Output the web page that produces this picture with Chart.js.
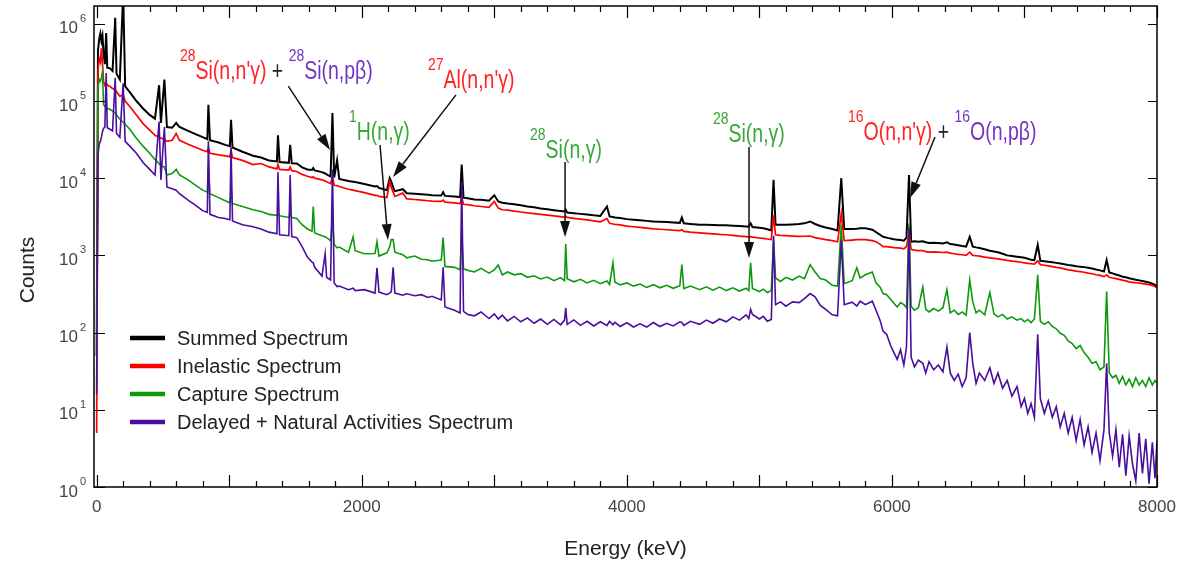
<!DOCTYPE html>
<html><head><meta charset="utf-8">
<script src="https://cdn.jsdelivr.net/npm/chart.js@4.4.1/dist/chart.umd.min.js"></script>
<style>html,body{margin:0;padding:0;background:#fff;} #wrap{width:1187px;height:567px;}</style>
</head><body><div id="wrap"><canvas id="c" width="1187" height="567"></canvas></div>
<script>
// ---------------- data ----------------
const energy = [
0,10,20,28,36,44,52,62,72,80,
100,120,140,150,175,200,215,250,300,350,
400,440,471,485,511,530,570,600,625,690,
750,800,835,843,855,920,970,1005,1014,1025,
1100,1180,1240,1300,1360,1368,1380,1450,1460,1472,
1510,1550,1590,1625,1634,1645,1700,1724,1735,1765,
1779,1792,1814,1830,1900,1935,1950,2020,2100,2115,
2130,2190,2211,2223,2237,2250,2310,2340,2400,2450,
2500,2530,2600,2614,2628,2700,2742,2754,2768,2800,
2850,2900,2960,3000,3030,3060,3100,3150,3200,3250,
3300,3350,3400,3450,3500,3530,3539,3550,3600,3650,
3700,3750,3800,3850,3870,3895,3910,3950,4000,4050,
4100,4150,4200,4250,4300,4350,4400,4415,4430,4480,
4550,4600,4650,4700,4750,4800,4850,4900,4920,4934,
4948,5000,5030,5060,5090,5107,5122,5160,5200,5250,
5300,5340,5383,5420,5460,5500,5550,5590,5618,5640,
5700,5735,5760,5800,5852,5880,5910,5933,5960,5990,
6015,6040,6065,6090,6110,6129,6145,6170,6200,6233,
6255,6280,6315,6350,6385,6415,6440,6470,6500,6530,
6560,6587,6610,6635,6660,6700,6739,6770,6800,6835,
6870,6905,6944,6975,7000,7025,7050,7075,7100,7120,
7150,7180,7210,7240,7270,7300,7330,7360,7390,7420,
7450,7480,7510,7540,7570,7600,7620,7640,7665,7690,
7715,7740,7765,7790,7815,7840,7865,7890,7915,7940,
7965,7985,8000];

const summed = [
50,4.5e5,6.5e5,7.5e5,6.0e5,7.0e5,4.2e5,3.0e5,7.6e5,2.7e5,
2.65e5,2.45e5,1.2e6,2.25e5,1.9e5,2.5e6,1.55e5,1.3e5,1.0e5,8.0e4,
6.6e4,5.9e4,1.6e5,5.2e4,1.9e5,4.6e4,4.5e4,5.2e4,4.6e4,4.1e4,
3.7e4,3.4e4,3.2e4,8.9e4,3.1e4,2.9e4,2.7e4,2.6e4,5.7e4,2.5e4,
2.2e4,1.95e4,1.85e4,1.7e4,1.65e4,3.6e4,1.62e4,1.58e4,2.7e4,1.56e4,
1.55e4,1.38e4,1.3e4,1.28e4,1.35e4,1.26e4,1.2e4,1.15e4,1.12e4,1.05e4,
7.0e4,1.02e4,1.7e4,9.8e3,9.2e3,9.0e3,8.9e3,8.4e3,7.8e3,7.9e3,
7.5e3,7.0e3,1.0e4,9.0e3,7.6e3,6.8e3,7.2e3,6.4e3,6.3e3,6.2e3,
6.1e3,6.0e3,5.95e3,6.6e3,5.9e3,5.8e3,5.7e3,1.5e4,5.6e3,5.5e3,
5.3e3,5.25e3,5.1e3,6.0e3,5.0e3,4.8e3,4.7e3,4.6e3,4.45e3,4.3e3,
4.2e3,4.05e3,3.95e3,3.85e3,3.75e3,3.7e3,3.9e3,3.6e3,3.52e3,3.45e3,
3.38e3,3.3e3,3.25e3,4.3e3,3.2e3,3.15e3,3.1e3,3.05e3,2.95e3,2.9e3,
2.85e3,2.8e3,2.75e3,2.72e3,2.7e3,2.67e3,2.64e3,3.1e3,2.6e3,2.56e3,
2.5e3,2.5e3,2.48e3,2.46e3,2.45e3,2.43e3,2.4e3,2.37e3,2.35e3,2.6e3,
2.33e3,2.28e3,2.25e3,2.18e3,2.1e3,9.5e3,2.5e3,2.5e3,2.5e3,2.52e3,
2.55e3,2.6e3,2.75e3,2.55e3,2.4e3,2.3e3,2.2e3,2.1e3,1.0e4,2.2e3,
2.2e3,2.22e3,2.24e3,2.25e3,2.15e3,2.0e3,1.85e3,1.74e3,1.7e3,1.65e3,
1.62e3,1.6e3,1.58e3,1.55e3,1.7e3,1.1e4,1.5e3,1.52e3,1.5e3,1.52e3,
1.48e3,1.45e3,1.46e3,1.45e3,1.43e3,1.48e3,1.4e3,1.38e3,1.35e3,1.32e3,
1.3e3,1.74e3,1.3e3,1.27e3,1.25e3,1.2e3,1.15e3,1.12e3,1.1e3,1.05e3,
1.0e3,980,960,945,930,905,880,870,1.37e3,850,
840,830,815,800,785,770,750,740,725,715,
705,690,675,655,640,620,870,600,585,565,
550,530,520,505,495,485,475,465,455,445,
430,415,400];

const inelastic = [
5,2.5e5,3.5e5,3.2e5,4.8e5,3.0e5,1.8e5,1.6e5,1.7e5,1.6e5,
1.55e5,1.45e5,1.4e5,1.32e5,1.15e5,1.2e5,1.0e5,8.5e4,6.6e4,5.1e4,
4.2e4,3.6e4,3.4e4,3.3e4,3.2e4,3.0e4,3.1e4,3.8e4,3.1e4,2.75e4,
2.5e4,2.3e4,2.2e4,2.5e4,2.1e4,2.0e4,1.95e4,1.9e4,2.3e4,1.85e4,
1.7e4,1.5e4,1.55e4,1.4e4,1.32e4,1.5e4,1.3e4,1.27e4,1.4e4,1.25e4,
1.22e4,1.12e4,1.06e4,1.02e4,1.04e4,1.0e4,9.5e3,9.2e3,9.0e3,8.5e3,
1.05e4,8.1e3,8.0e3,7.8e3,7.2e3,7.0e3,6.9e3,6.5e3,6.0e3,6.0e3,
5.8e3,5.6e3,9.0e3,7.6e3,6.6e3,5.8e3,6.4e3,5.4e3,5.3e3,5.2e3,
5.1e3,5.05e3,5.0e3,5.2e3,4.9e3,4.8e3,4.7e3,5.6e3,4.6e3,4.55e3,
4.4e3,4.3e3,4.2e3,5.0e3,4.1e3,3.9e3,3.85e3,3.75e3,3.65e3,3.55e3,
3.48e3,3.4e3,3.32e3,3.25e3,3.18e3,3.12e3,3.2e3,3.1e3,3.02e3,2.95e3,
2.88e3,2.8e3,2.72e3,3.0e3,2.6e3,2.55e3,2.52e3,2.48e3,2.4e3,2.35e3,
2.3e3,2.25e3,2.2e3,2.18e3,2.15e3,2.12e3,2.1e3,2.15e3,2.05e3,2.0e3,
1.96e3,1.93e3,1.9e3,1.87e3,1.85e3,1.82e3,1.78e3,1.75e3,1.74e3,1.75e3,
1.72e3,1.68e3,1.66e3,1.63e3,1.6e3,3.3e3,1.85e3,1.82e3,1.8e3,1.78e3,
1.76e3,1.77e3,1.78e3,1.7e3,1.65e3,1.6e3,1.55e3,1.5e3,3.5e3,1.55e3,
1.58e3,1.6e3,1.6e3,1.6e3,1.55e3,1.5e3,1.4e3,1.3e3,1.3e3,1.28e3,
1.26e3,1.25e3,1.24e3,1.22e3,1.3e3,2.0e3,1.2e3,1.17e3,1.15e3,1.15e3,
1.12e3,1.1e3,1.11e3,1.1e3,1.09e3,1.1e3,1.07e3,1.05e3,1.03e3,1.02e3,
1.0e3,1.1e3,1.0e3,990,980,950,930,915,900,880,
860,845,830,815,800,790,780,770,850,760,
745,730,715,700,690,670,650,640,625,615,
605,590,578,562,550,530,560,520,510,500,
490,478,468,455,448,442,437,432,425,418,
408,395,380];

const capture = [
20,1.5e5,1.9e5,1.8e5,2.0e5,2.4e5,9.0e4,8.5e4,8.5e4,8.0e4,
7.8e4,7.4e4,7.0e4,6.6e4,5.8e4,5.3e4,5.0e4,4.3e4,3.3e4,2.6e4,
2.1e4,1.75e4,1.55e4,1.45e4,1.4e4,1.1e4,1.15e4,1.3e4,1.1e4,9.5e3,
8.0e3,7.0e3,6.6e3,1.4e4,6.3e3,5.6e3,5.1e3,4.8e3,7.0e3,4.7e3,
4.3e3,3.9e3,3.7e3,3.4e3,3.3e3,3.5e3,3.25e3,3.1e3,3.6e3,3.1e3,
3.0e3,2.5e3,2.2e3,2.05e3,4.3e3,1.95e3,1.8e3,1.75e3,1.7e3,1.55e3,
3.0e3,1.4e3,1.25e3,1.28e3,1.1e3,1.74e3,1.15e3,1.05e3,1.06e3,1.5e3,
980,1.08e3,1.3e3,1.6e3,1.6e3,1.1e3,1.02e3,930,980,890,
880,840,870,1.7e3,720,700,650,2.0e3,670,640,
610,680,590,650,750,560,610,560,580,520,
545,495,525,470,515,470,1.4e3,500,455,490,
440,475,430,465,420,800,450,415,440,400,
425,385,418,380,410,375,405,760,372,400,
360,392,355,388,350,380,345,375,350,800,
372,340,365,330,350,1.6e3,510,460,520,480,
540,500,760,610,500,480,410,400,2.5e3,430,
470,690,510,560,610,440,390,320,310,270,
240,215,245,230,210,2.6e3,220,195,210,390,
200,185,205,190,210,360,180,195,172,185,
168,480,250,180,195,170,330,175,160,172,
150,160,145,152,138,148,135,150,560,140,
128,138,120,112,98,92,78,72,62,68,
55,48,40,42,33,36,340,30,26,28,
22,27,21,25,20,26,21,24,20,26,
21,24,22];

const delayed = [
16,2.0e4,2.8e4,3.0e4,3.4e4,4.0e4,4.4e4,4.6e4,2.3e5,4.5e4,
4.3e4,4.1e4,2.0e5,3.8e4,3.4e4,1.7e5,3.0e4,2.6e4,2.1e4,1.6e4,
1.3e4,1.1e4,5.4e4,9.5e3,4.6e4,7.7e3,7.3e3,7.0e3,6.3e3,5.2e3,
4.4e3,3.8e3,3.6e3,3.0e4,3.4e3,3.1e3,3.0e3,2.9e3,2.5e4,2.8e3,
2.5e3,2.35e3,2.2e3,2.0e3,1.9e3,1.2e4,1.85e3,1.8e3,1.1e4,1.75e3,
1.7e3,1.3e3,950,820,800,700,540,1.05e3,520,480,
1.3e4,440,395,400,360,375,350,360,325,690,
335,310,325,340,700,325,305,318,300,310,
285,295,265,700,215,195,180,9.0e3,188,172,
165,185,152,175,150,168,142,162,138,155,
132,150,128,148,126,145,210,128,146,124,
140,122,138,124,140,126,136,120,134,118,
130,118,135,120,132,122,138,135,124,140,
128,145,132,150,138,160,145,170,152,200,
172,150,162,140,148,1.8e3,230,250,220,250,
245,275,320,290,225,200,170,165,1.6e3,230,
248,220,255,230,255,195,145,105,95,68,
55,45,60,38,65,2.3e3,48,36,44,40,
30,42,33,38,31,65,30,24,29,20,
26,100,40,22,30,24,35,22,30,19,
24,15,20,11,14,9,12,8,95,14,
9,13,8,11,6,9,5,8,4,7.5,
3.5,6,2.8,5,2.2,5.5,40,5,2.5,5.5,
1.8,4.8,1.4,4.6,2,1.2,5,1.5,4.2,1.1,
3.8,1.3,4];

const seriesNames = ['Summed Spectrum','Inelastic Spectrum','Capture Spectrum','Delayed + Natural Activities Spectrum'];
const seriesValues = [summed, inelastic, capture, delayed];
const seriesColors = ['#000000','#ff0000','#0c9a0c','#4a0e9c'];
const seriesWidths = [2.0, 1.7, 1.6, 1.6];

const xTickLabels = [0, 2000, 4000, 6000, 8000];
const yTickExponents = [0, 1, 2, 3, 4, 5, 6];
const xMinorStep = 200, xMajorStep = 1000;
const xMin = -20, xMax = 8000, yMin = 1, yMax = 1.7e6;

// annotation labels (anchor / arrow positions in data units: [keV, counts])
const textColors = {red:'#ff2424', purple:'#7434c4', green:'#39a839', plus:'#222222'};
const annotations = [
  {at:[629,1.93e5], parts:[['28',true,'red'],["Si(n,n'\u03b3)",false,'red'],[' + ',false,'plus'],['28',true,'purple'],['Si(n,p\u03b2)',false,'purple']], arrow:[[1446,1.56e5],[1761,2.32e4]]},
  {at:[2500,1.47e5], parts:[['27',true,'red'],["Al(n,n'\u03b3)",false,'red']], arrow:[[2711,1.2e5],[2236,1.04e4]]},
  {at:[1904,3.13e4], parts:[['1',true,'green'],['H(n,\u03b3)',false,'green']], arrow:[[2138,2.69e4],[2198,1.58e3]]},
  {at:[3270,1.83e4], parts:[['28',true,'green'],['Si(n,\u03b3)',false,'green']], arrow:[[3534,1.62e4],[3534,1.73e3]]},
  {at:[4650,2.94e4], parts:[['28',true,'green'],['Si(n,\u03b3)',false,'green']], arrow:[[4922,2.54e4],[4922,925]]},
  {at:[5669,3.13e4], parts:[['16',true,'red'],["O(n,n'\u03b3)",false,'red'],[' + ',false,'plus'],['16',true,'purple'],['O(n,p\u03b2)',false,'purple']], arrow:[[6325,3.42e4],[6137,5.54e3]]}
];

// ---------------- drawing ----------------
const FONT = '"Liberation Sans", Arial, Helvetica, sans-serif';

function drawScaledText(ctx, s, x, y, size, color, sx) {
  ctx.save();
  ctx.font = size + 'px ' + FONT;
  ctx.fillStyle = color;
  ctx.textBaseline = 'alphabetic';
  ctx.textAlign = 'left';
  const w = ctx.measureText(s).width * sx;
  ctx.translate(x, y);
  ctx.scale(sx, 1);
  ctx.fillText(s, 0, 0);
  ctx.restore();
  return w;
}

function drawArrow(ctx, x1, y1, x2, y2) {
  const L = 16, H = 5;
  const ang = Math.atan2(y2 - y1, x2 - x1);
  const bx = x2 - L * Math.cos(ang), by = y2 - L * Math.sin(ang);
  ctx.save();
  ctx.strokeStyle = '#111'; ctx.fillStyle = '#111'; ctx.lineWidth = 1.5;
  ctx.beginPath(); ctx.moveTo(x1, y1); ctx.lineTo(bx, by); ctx.stroke();
  ctx.beginPath();
  ctx.moveTo(x2, y2);
  ctx.lineTo(bx + H * Math.sin(ang), by - H * Math.cos(ang));
  ctx.lineTo(bx - H * Math.sin(ang), by + H * Math.cos(ang));
  ctx.closePath(); ctx.fill();
  ctx.restore();
}

const decorations = {
  id: 'decorations',
  afterDatasetsDraw(chart) {
    const ctx = chart.ctx, a = chart.chartArea, xs = chart.scales.x, ys = chart.scales.y;
    ctx.save();
    // frame
    ctx.strokeStyle = '#000'; ctx.lineWidth = 1.5;
    ctx.strokeRect(a.left, a.top, a.right - a.left, a.bottom - a.top);
    // x ticks (inside, bottom and top)
    ctx.lineWidth = 1.2;
    ctx.beginPath();
    for (let v = 0; v <= xMax; v += xMinorStep) {
      const px = Math.round(xs.getPixelForValue(v)) + 0.5;
      const len = (v % xMajorStep === 0) ? 12 : 6;
      ctx.moveTo(px, a.bottom); ctx.lineTo(px, a.bottom - len);
      ctx.moveTo(px, a.top); ctx.lineTo(px, a.top + len);
    }
    // y ticks (inside, left and right)
    yTickExponents.forEach(e => {
      const py = Math.round(ys.getPixelForValue(Math.pow(10, e))) + 0.5;
      ctx.moveTo(a.left, py); ctx.lineTo(a.left + 11, py);
      ctx.moveTo(a.right, py); ctx.lineTo(a.right - 9, py);
    });
    ctx.stroke();
    // x tick labels
    ctx.fillStyle = '#444';
    ctx.font = '17px ' + FONT;
    ctx.textAlign = 'center'; ctx.textBaseline = 'middle';
    xTickLabels.forEach(v => ctx.fillText(String(v), xs.getPixelForValue(v), a.bottom + 20));
    // y tick labels 10^n
    yTickExponents.forEach(e => {
      const py = ys.getPixelForValue(Math.pow(10, e));
      ctx.font = '17px ' + FONT; ctx.textAlign = 'right'; ctx.textBaseline = 'middle';
      ctx.fillText('10', a.left - 16, py + 5);
      ctx.font = '11px ' + FONT; ctx.textAlign = 'left'; ctx.textBaseline = 'alphabetic';
      ctx.fillText(String(e), a.left - 14, py - 2);
    });
    // axis titles
    ctx.fillStyle = '#222';
    ctx.font = '21px ' + FONT; ctx.textAlign = 'center'; ctx.textBaseline = 'middle';
    ctx.fillText('Energy (keV)', (a.left + a.right) / 2, 549);
    ctx.save(); ctx.translate(28, 270); ctx.rotate(-Math.PI / 2);
    ctx.fillText('Counts', 0, 0); ctx.restore();
    // legend
    chart.data.datasets.forEach((ds, i) => {
      const yy = a.top + 332 + i * 28;
      ctx.strokeStyle = ds.borderColor; ctx.lineWidth = 4.5;
      ctx.beginPath(); ctx.moveTo(a.left + 36, yy); ctx.lineTo(a.left + 71, yy); ctx.stroke();
      ctx.fillStyle = '#222'; ctx.font = '20px ' + FONT;
      ctx.textAlign = 'left'; ctx.textBaseline = 'middle';
      ctx.fillText(ds.label, a.left + 83, yy + 1);
    });
    // annotations
    const SX = 0.78;
    annotations.forEach(an => {
      let x = xs.getPixelForValue(an.at[0]);
      const base = ys.getPixelForValue(an.at[1]);
      an.parts.forEach(p => {
        if (p[1]) x += drawScaledText(ctx, p[0], x, base - 18, 17, textColors[p[2]], 0.82);
        else x += drawScaledText(ctx, p[0], x, base, 25, textColors[p[2]], SX);
      });
      const s = an.arrow[0], t = an.arrow[1];
      drawArrow(ctx, xs.getPixelForValue(s[0]), ys.getPixelForValue(s[1]),
                     xs.getPixelForValue(t[0]), ys.getPixelForValue(t[1]));
    });
    ctx.restore();
  }
};

const datasets = seriesNames.map((name, i) => ({
  label: name,
  data: energy.map((e, k) => ({x: e, y: seriesValues[i][k]})),
  borderColor: seriesColors[i],
  backgroundColor: seriesColors[i],
  borderWidth: seriesWidths[i],
  pointRadius: 0,
  tension: 0,
  fill: false,
  order: 3 - i
}));

new Chart(document.getElementById('c'), {
  type: 'line',
  data: { datasets },
  options: {
    responsive: false,
    animation: false,
    devicePixelRatio: 1,
    layout: { padding: { left: 94, right: 30, top: 6, bottom: 80 } },
    plugins: { legend: { display: false }, tooltip: { enabled: false } },
    scales: {
      x: { type: 'linear', min: xMin, max: xMax, display: false },
      y: { type: 'logarithmic', min: yMin, max: yMax, display: false }
    }
  },
  plugins: [decorations]
});
</script></body></html>
